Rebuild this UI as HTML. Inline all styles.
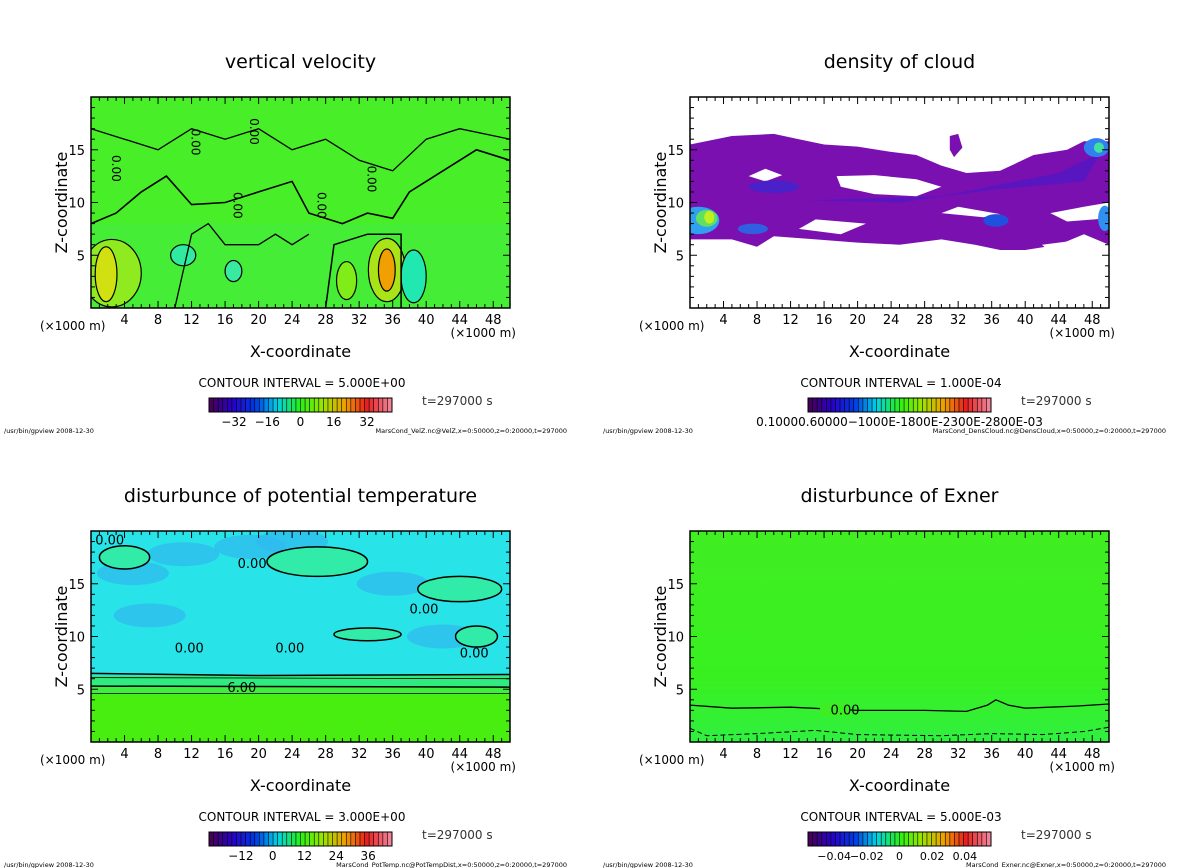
<!DOCTYPE html>
<html><head><meta charset="utf-8"><style>
html,body{margin:0;padding:0;background:#fff;}
svg{display:block;font-family:"DejaVu Sans","Liberation Sans",sans-serif;}
</style></head><body>
<svg id="root" width="1200" height="868" viewBox="0 0 1200 868"></svg>
<script>
// ---- data ----
const xTicks=[4,8,12,16,20,24,28,32,36,40,44,48];
const zTicks=[5,10,15];
const panelTitles=["vertical velocity","density of cloud","disturbunce of potential temperature","disturbunce of Exner"];
const intervals=["CONTOUR INTERVAL = 5.000E+00","CONTOUR INTERVAL = 1.000E-04","CONTOUR INTERVAL = 3.000E+00","CONTOUR INTERVAL = 5.000E-03"];
const files=["MarsCond_VelZ.nc@VelZ,x=0:50000,z=0:20000,t=297000","MarsCond_DensCloud.nc@DensCloud,x=0:50000,z=0:20000,t=297000","MarsCond_PotTemp.nc@PotTempDist,x=0:50000,z=0:20000,t=297000","MarsCond_Exner.nc@Exner,x=0:50000,z=0:20000,t=297000"];
const cbLabels0=["-32","-16","0","16","32"];const cbPos0=[-32,-16,0,16,32];const cbRange0=[-44,44];
const cbLabels1=["0.10000.60000-1000E-1800E-2300E-2800E-03"];const cbPos1=[0];const cbRange1=[-1,1];
const cbLabels2=["-12","0","12","24","36"];const cbPos2=[-12,0,12,24,36];const cbRange2=[-24,45];
const cbLabels3=["-0.04","-0.02","0","0.02","0.04"];const cbPos3=[-0.04,-0.02,0,0.02,0.04];const cbRange3=[-0.056,0.056];
// velocity blobs: x, z, rx, rz, color
const velBlobs=[[2.5,3.3,3.5,3.2,"#90ea20"],[1.8,3.2,1.3,2.6,"#d0e010"],[35.3,3.6,2.2,3,"#a8e418"],[35.3,3.6,1,2,"#f0a000"],[30.5,2.6,1.2,1.8,"#80ec18"],[38.5,3,1.5,2.5,"#20e8b0"],[11,5,1.5,1,"#30eaa0"],[17,3.5,1,1,"#38eaa0"]];
// cloud polygons in (x km, z km)
const cloudMain=[[0,15.5],[5,16.3],[10,16.5],[13,16],[16,15.5],[20,15.3],[24,14.8],[27,14.5],[30,13.5],[33,12.8],[37,13],[41,14.5],[45,15],[47,15.8],[50,15.8],[50,6],[47,7],[44,6],[40,5.5],[37,5.5],[34,6],[30,6.5],[25,6],[20,6.2],[15,6.5],[10,6.8],[8,5.8],[5,6.5],[0,6.5]];
const cloudHoles=[[[17.5,12.5],[22,12.6],[27,12.2],[30,11.5],[27,10.6],[22,10.8],[18,11.5]],[[13,7.5],[18,7],[21,8],[15,8.4]],[[30,9],[35,8.6],[37,8.9],[32,9.6]],[[43,9],[47,9.6],[50,10],[50,8.5],[45,8.2]],[[7,12.5],[9,13.2],[11,12.6],[9,12]],[[42,6],[47,6.5],[47,5.5],[43,5.3]]];
const cloudSmall=[[[31,16.3],[32,16.5],[32.5,15.2],[31.5,14.3],[31,15]]];
const cloudBright=[[1,8.3,2.5,1.3,"#30a0f0"],[2,8.5,1.3,0.8,"#60e060"],[2.3,8.6,0.6,0.6,"#c0f020"],[7.5,7.5,1.8,0.5,"#3060e0"],[48.5,15.2,1.5,0.9,"#3080f0"],[48.8,15.2,0.6,0.5,"#40e0a0"],[36.5,8.3,1.5,0.6,"#2050e0"],[49.5,8.5,0.8,1.2,"#3090f0"],[10,11.5,3,0.6,"#4a20c8"]];
// potential temp regions
const ptDark=[[5,16],[11,17.8],[24,19],[36,15],[7,12],[19,18.5],[42,10]];
const ptLight=[[4,17.5,3,1.1],[27,17.1,6,1.4],[44,14.5,5,1.2],[33,10.2,4,0.6],[46,10,2.5,1]];
// exner contour
const exZero=[[0,3.5],[5,3.2],[12,3.3],[20,3],[28,3],[33,2.9],[35.5,3.5],[36.5,4],[38,3.5],[40,3.2],[46,3.4],[50,3.6]];
const exNeg=[[0,1.3],[2,0.6],[8,0.8],[15,1.1],[20,0.7],[30,0.6],[36,0.8],[42,0.7],[47,1],[50,1.4]];
// ---- drawing ----
const NS="http://www.w3.org/2000/svg";const root=document.getElementById('root');
function mk(tag,at,par){const e=document.createElementNS(NS,tag);for(const k in at)e.setAttribute(k,at[k]);(par||root).appendChild(e);return e;}
const panels=[{x0:91,y0:97},{x0:690,y0:97},{x0:91,y0:531},{x0:690,y0:531}];
const W=419,H=211;
function rainbow(t){const stops=[[0,[70,0,90]],[0.12,[40,0,200]],[0.25,[0,60,230]],[0.37,[0,210,230]],[0.5,[40,240,20]],[0.62,[150,230,0]],[0.75,[240,160,0]],[0.87,[230,30,30]],[1,[240,130,150]]];
for(let i=1;i<stops.length;i++){if(t<=stops[i][0]){const a=stops[i-1],b=stops[i];const f=(t-a[0])/(b[0]-a[0]);return 'rgb('+a[1].map((v,j)=>Math.round(v+(b[1][j]-v)*f)).join(',')+')';}}return 'rgb(240,130,150)';}
panels.forEach((p,pi)=>{
 const g=mk('g',{});
 
 
 const sx=v=>p.x0+v/50*W, sz=v=>p.y0+H-v/20*H;
 const pts=a=>a.map(q=>sx(q[0]).toFixed(1)+','+sz(q[1]).toFixed(1)).join(' ');
 const t=mk('text',{x:p.x0+W/2,y:p.y0-29,'font-size':19,'text-anchor':'middle'},g);t.textContent=panelTitles[pi];
 
 const cp='clip'+pi;const c=mk('clipPath',{id:cp},g);mk('rect',{x:p.x0,y:p.y0,width:W,height:H},c);
 const pl=mk('g',{'clip-path':'url(#'+cp+')'},g);
 
 if(pi===0){
  mk('rect',{x:p.x0,y:p.y0,width:W,height:H,fill:'#48ee28'},pl);
  mk('rect',{x:sx(0),y:sz(8),width:W,height:sz(0)-sz(8),fill:'#44ec40',opacity:0.6},pl);
  velBlobs.forEach(b=>{const e=mk('ellipse',{cx:sx(b[0]),cy:sz(b[1]),rx:b[2]/50*W,ry:b[3]/20*H,fill:b[4],stroke:'#000','stroke-width':1.2},pl);});
  mk('polyline',{points:pts([[0,8],[3,9],[6,11],[9,12.5],[12,9.8],[16,10],[20,11],[24,12],[26,9],[30,8],[33,9],[36,8.5],[38,11],[42,13],[46,15],[50,14]]),fill:'none',stroke:'#000','stroke-width':1.6},pl);
  mk('polyline',{points:pts([[0,17],[4,16],[8,15],[12,17],[16,16],[20,17],[24,15],[28,16],[32,14],[36,13],[40,16],[44,17],[50,16]]),fill:'none',stroke:'#000','stroke-width':1.3},pl);
  mk('polyline',{points:pts([[28,0],[29,6],[33,7],[37,7],[37,0]]),fill:'none',stroke:'#000','stroke-width':1.5},pl);
  mk('polyline',{points:pts([[10,0],[12,7],[14,8],[16,6],[20,6],[22,7],[24,6],[26,7]]),fill:'none',stroke:'#000','stroke-width':1.3},pl);
 } else if(pi===1){
  mk('rect',{x:p.x0,y:p.y0,width:W,height:H,fill:'#fff'},pl);
  const m=mk('polygon',{points:pts(cloudMain),fill:'#7a10b0'},pl);
  cloudSmall.forEach(a=>mk('polygon',{points:pts(a),fill:'#7a10b0'},pl));
  cloudHoles.forEach(a=>mk('polygon',{points:pts(a),fill:'#fff'},pl));
  mk('polygon',{points:pts([[14,10.2],[30,10.6],[44,12.8],[49,14.7],[47,12],[36,11.2],[25,10.0]]),fill:'#4a18c8',opacity:0.7},pl);
  cloudBright.forEach(b=>mk('ellipse',{cx:sx(b[0]),cy:sz(b[1]),rx:b[2]/50*W,ry:b[3]/20*H,fill:b[4]},pl));
 } else if(pi===2){
  mk('rect',{x:p.x0,y:p.y0,width:W,height:H,fill:'#28e4e8'},pl);
  ptDark.forEach(d=>mk('ellipse',{cx:sx(d[0]),cy:sz(d[1]),rx:36,ry:12,fill:'#30b8f0',opacity:0.7},pl));
  ptLight.forEach(d=>mk('ellipse',{cx:sx(d[0]),cy:sz(d[1]),rx:d[2]/50*W,ry:d[3]/20*H,fill:'#30eca8',stroke:'#000','stroke-width':1.5},pl));
  mk('rect',{x:sx(0),y:sz(6.3),width:W,height:sz(0)-sz(6.3),fill:'#30ec80'},pl);
  mk('rect',{x:sx(0),y:sz(5.2),width:W,height:sz(0)-sz(5.2),fill:'#40ee40'},pl);
  mk('rect',{x:sx(0),y:sz(4.5),width:W,height:sz(0)-sz(4.5),fill:'#48ee10'},pl);
  mk('polyline',{points:pts([[0,6.5],[20,6.3],[50,6.4]]),fill:'none',stroke:'#000','stroke-width':1.5},pl);
  mk('polyline',{points:pts([[0,5.3],[50,5.2]]),fill:'none',stroke:'#000','stroke-width':1.5},pl);
  mk('polyline',{points:pts([[0,6.1],[50,6.0]]),fill:'none',stroke:'#000','stroke-width':0.8},pl);
  mk('polyline',{points:pts([[0,4.6],[50,4.6]]),fill:'none',stroke:'#000','stroke-width':0.8},pl);
  const l=mk('text',{x:sx(18),y:sz(5.2)+5,'font-size':13,'text-anchor':'middle'},pl);l.textContent='6.00';
  [[0.5,18.7],[17.5,16.5],[38,12.2],[10,8.5],[22,8.5],[44,8]].forEach(q=>{const e=mk('text',{x:sx(q[0]),y:sz(q[1]),'font-size':13},pl);e.textContent='0.00';});
 } else {
  const gr=mk('linearGradient',{id:'exg',x1:0,y1:0,x2:0,y2:1},g);
  mk('stop',{offset:0,'stop-color':'#40ee22'},gr);mk('stop',{offset:0.7,'stop-color':'#38f020'},gr);mk('stop',{offset:1,'stop-color':'#30f040'},gr);
  mk('rect',{x:p.x0,y:p.y0,width:W,height:H,fill:'url(#exg)'},pl);
  const z=mk('polyline',{points:pts(exZero),fill:'none',stroke:'#000','stroke-width':1.3},pl);
  mk('polyline',{points:pts(exNeg),fill:'none',stroke:'#000','stroke-width':1,'stroke-dasharray':'5,3'},pl);
  mk('rect',{x:sx(15.5),y:sz(3)-8,width:30,height:14,fill:'#3cee22'},pl);
  const l=mk('text',{x:sx(18.5),y:sz(3)+4,'font-size':13,'text-anchor':'middle'},pl);l.textContent='0.00';
 }
 if(pi===0){[[2.5,14.5],[17,11],[27,11],[33,13.5],[12,17],[19,18]].forEach(q=>{const e=mk('text',{x:sx(q[0]),y:sz(q[1]),'font-size':12,transform:'rotate(90 '+sx(q[0])+' '+sz(q[1])+')'},pl);e.textContent='0.00';});}
 const fr=mk('rect',{x:p.x0,y:p.y0,width:W,height:H,fill:'none',stroke:'#000','stroke-width':1.5},g);
 
 for(let v=1;v<50;v++){const L=v%4===0?7:4;mk('line',{x1:sx(v),x2:sx(v),y1:p.y0+H,y2:p.y0+H-L,stroke:'#000'},g);mk('line',{x1:sx(v),x2:sx(v),y1:p.y0,y2:p.y0+L,stroke:'#000'},g);}
 for(let v=1;v<20;v++){const L=v%5===0?7:4;mk('line',{x1:p.x0,x2:p.x0+L,y1:sz(v),y2:sz(v),stroke:'#000'},g);mk('line',{x1:p.x0+W,x2:p.x0+W-L,y1:sz(v),y2:sz(v),stroke:'#000'},g);}
 xTicks.forEach(v=>{const e=mk('text',{x:sx(v),y:p.y0+H+16,'font-size':13,'text-anchor':'middle'},g);e.textContent=v;});
 zTicks.forEach(v=>{const e=mk('text',{x:p.x0-6,y:sz(v)+5,'font-size':13,'text-anchor':'end'},g);e.textContent=v;});
 let e=mk('text',{x:p.x0-51,y:p.y0+H+22,'font-size':12},g);e.textContent='(×1000 m)';
 e=mk('text',{x:p.x0+W+6,y:p.y0+H+29,'font-size':12,'text-anchor':'end'},g);e.textContent='(×1000 m)';
 e=mk('text',{x:p.x0+W/2,y:p.y0+H+49,'font-size':16,'text-anchor':'middle'},g);e.textContent='X-coordinate';
 e=mk('text',{x:p.x0-24,y:p.y0+H/2,'font-size':16,'text-anchor':'middle',transform:'rotate(-90 '+(p.x0-24)+' '+(p.y0+H/2)+')'},g);e.textContent='Z-coordinate';
 e=mk('text',{x:p.x0+211,y:p.y0+H+79,'font-size':12,'text-anchor':'middle'},g);e.textContent=intervals[pi];
 const cb={x:p.x0+118,y:p.y0+H+90,w:183,h:14};
 const cbg=mk('g',{},g);
 const n=40;for(let i=0;i<n;i++){mk('rect',{x:cb.x+i*cb.w/n,y:cb.y,width:cb.w/n+0.3,height:cb.h,fill:rainbow(i/(n-1))},cbg);mk('line',{x1:cb.x+i*cb.w/n,x2:cb.x+i*cb.w/n,y1:cb.y,y2:cb.y+cb.h,stroke:'#000','stroke-width':0.6},cbg);}
 mk('rect',{x:cb.x,y:cb.y,width:cb.w,height:cb.h,fill:'none',stroke:'#000'},cbg);
 const labs=[cbLabels0,cbLabels1,cbLabels2,cbLabels3][pi],pos=[cbPos0,cbPos1,cbPos2,cbPos3][pi],rg=[cbRange0,cbRange1,cbRange2,cbRange3][pi];
 labs.forEach((s,i)=>{const cx=cb.x+(pos[i]-rg[0])/(rg[1]-rg[0])*cb.w;const e=mk('text',{x:cx,y:cb.y+cb.h+14,'font-size':pi===3?11:12,'text-anchor':'middle'},cbg);e.textContent=s.replace('-','−');});
 e=mk('text',{x:p.x0+331,y:p.y0+H+97,'font-size':12,fill:'#333'},g);e.textContent='t=297000 s';
 e=mk('text',{x:p.x0-87,y:p.y0+H+125,'font-size':6.5},g);e.textContent='/usr/bin/gpview  2008-12-30';
 e=mk('text',{x:p.x0+476,y:p.y0+H+125,'font-size':6.5,'text-anchor':'end'},g);e.textContent=files[pi];
});
</script>
</body></html>
